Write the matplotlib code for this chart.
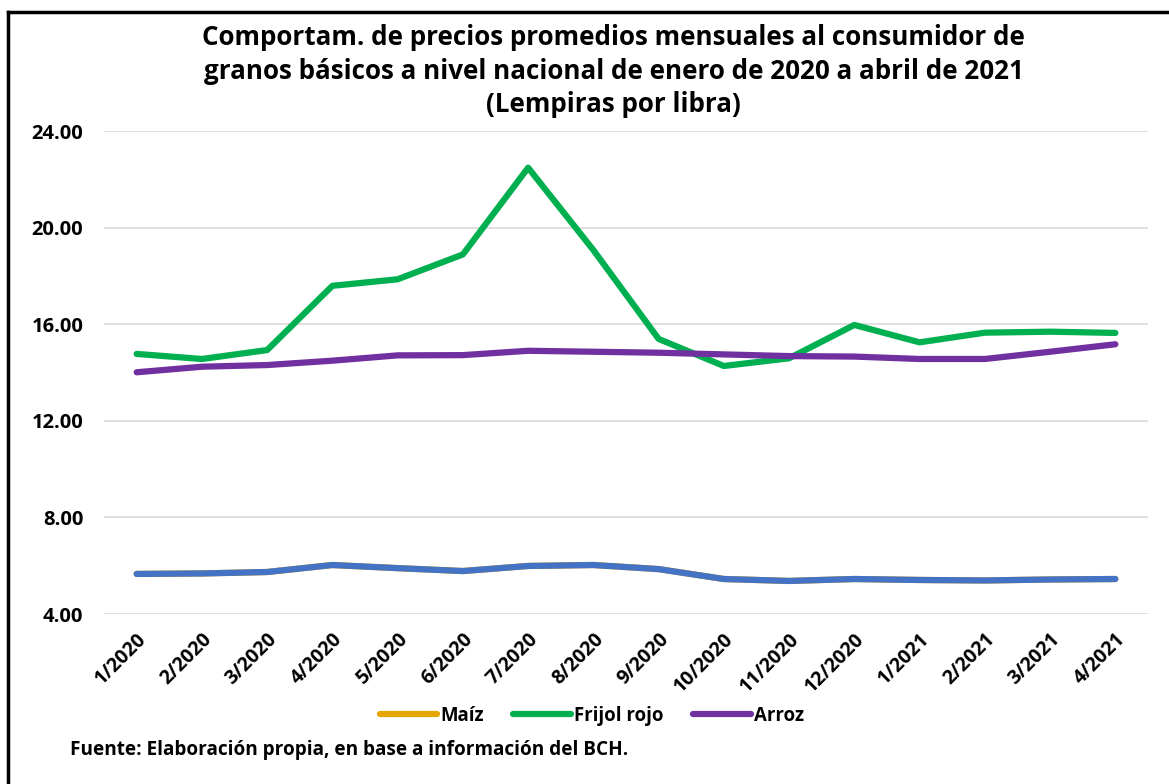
import matplotlib.pyplot as plt
from matplotlib.lines import Line2D

meses = ["1/2020", "2/2020", "3/2020", "4/2020", "5/2020", "6/2020", "7/2020", "8/2020",
         "9/2020", "10/2020", "11/2020", "12/2020", "1/2021", "2/2021", "3/2021", "4/2021"]
maiz = [5.66, 5.68, 5.74, 6.03, 5.90, 5.78, 5.99, 6.03,
        5.86, 5.45, 5.37, 5.45, 5.41, 5.39, 5.43, 5.45]
frijol = [14.77, 14.56, 14.93, 17.59, 17.86, 18.89, 22.48, 19.07,
          15.39, 14.27, 14.59, 15.97, 15.25, 15.65, 15.69, 15.64]
arroz = [14.01, 14.24, 14.31, 14.49, 14.71, 14.72, 14.90, 14.86,
         14.82, 14.75, 14.68, 14.66, 14.56, 14.56, 14.86, 15.17]
y_ticks = [4, 8, 12, 16, 20, 24]

plt.rcParams['font.family'] = ['Open Sans', 'DejaVu Sans']

fig = plt.figure(figsize=(11.69, 7.84), dpi=100)
ax = fig.add_axes([0.089, 0.2168, 0.893, 0.6161])

x = list(range(len(meses)))
lw = 4.5
ax.plot(x, maiz, color="#E6A800", lw=lw, solid_capstyle="round", label="Maíz")
ax.plot(x, maiz, color="#4472C4", lw=lw, solid_capstyle="round", label="_nolegend_")
ax.plot(x, frijol, color="#00B050", lw=lw, solid_capstyle="round", label="Frijol rojo")
ax.plot(x, arroz, color="#7030A0", lw=lw, solid_capstyle="round", label="Arroz")

ax.set_xlim(-0.5, len(meses) - 0.5)
ax.set_ylim(4, 24)
ax.set_yticks(y_ticks)
ax.set_yticklabels([f"{v:.2f}" for v in y_ticks], fontsize=14.5, fontweight="bold")
ax.set_xticks(x)
ax.set_xticklabels(meses, rotation=45, ha="right", rotation_mode="anchor",
                   fontsize=14, fontweight="bold")
ax.tick_params(length=0)
ax.tick_params(axis="y", pad=15)
ax.tick_params(axis="x", pad=11)
ax.grid(axis="y", color="#d9d9d9", lw=1.2)
ax.set_axisbelow(True)
for s in ax.spines.values():
    s.set_visible(False)

fig.text(0.525, 0.969, "Comportam. de precios promedios mensuales al consumidor de\n"
         "granos básicos a nivel nacional de enero de 2020 a abril de 2021\n"
         "(Lempiras por libra)", ha="center", va="top", fontsize=18.7,
         fontweight="bold", linespacing=1.3)

handles = [Line2D([], [], color=c, lw=lw, solid_capstyle="round")
           for c in ["#E6A800", "#00B050", "#7030A0"]]
fig.legend(handles, ["Maíz", "Frijol rojo", "Arroz"], loc="center",
           bbox_to_anchor=(0.506, 0.087), ncol=3, frameon=False, handlelength=3.1,
           handletextpad=0.15, columnspacing=1.6, prop={"weight": "bold", "size": 13.4})

fig.text(0.06, 0.043, "Fuente: Elaboración propia, en base a información del BCH.",
         fontsize=13.7, fontweight="bold", va="center")

# marco
fig.add_artist(Line2D([0.007, 1.0], [0.985, 0.985], color="black", lw=2.5,
                      transform=fig.transFigure))
fig.add_artist(Line2D([0.007, 0.007], [0.0, 0.985], color="black", lw=2.5,
                      transform=fig.transFigure))

fig.savefig("out.png", dpi=100)
